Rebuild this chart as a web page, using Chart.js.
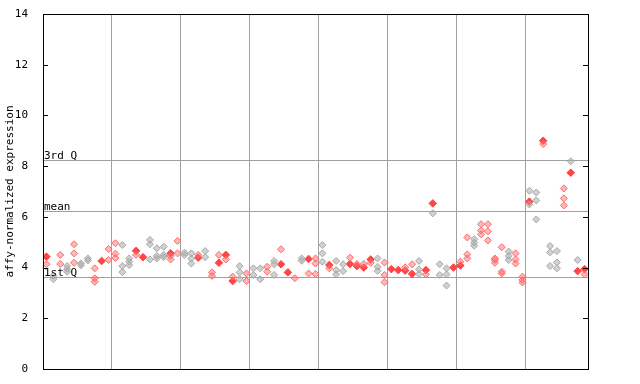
<!DOCTYPE html>
<html>
<head>
<meta charset="utf-8">
<script src="https://cdn.jsdelivr.net/npm/chart.js@4"></script>
<style>
  html, body { margin: 0; padding: 0; background: #fff; }
  canvas { display: block; }
</style>
</head>
<body>
<canvas id="chart" width="640" height="384"></canvas>
<script>
// samples per position (light markers), one inner array per position
const sampleValues = [
  [4.13], [3.68, 3.54], [4.5, 4.14], [4.06, 3.94, 3.84], [4.92, 4.56, 4.19],
  [4.16, 4.09], [4.36, 4.28], [3.97, 3.58, 3.44], [], [4.73, 4.3],
  [4.96, 4.55, 4.38], [4.89, 4.06, 3.82], [4.36, 4.23, 4.1], [4.5], [],
  [5.09, 4.92, 4.32], [4.76, 4.46, 4.36], [4.82, 4.5, 4.41], [4.46, 4.32], [5.05, 4.56],
  [4.59, 4.5], [4.56, 4.36, 4.16], [4.5], [4.65, 4.41], [3.81, 3.67],
  [4.5], [4.32], [3.64], [4.06, 3.81, 3.54], [3.77, 3.47],
  [3.97, 3.71], [3.97, 3.54], [4.03, 3.84], [4.26, 4.13, 3.71], [4.72],
  [], [3.58], [4.36, 4.27], [3.77], [4.36, 4.16, 3.75],
  [4.89, 4.56, 4.23], [3.97], [4.26, 3.9, 3.73], [4.13, 3.86], [4.39],
  [4.14], [4.14], [4.19], [4.36, 4.03, 3.87], [4.2, 3.71, 3.42],
  [], [], [4.01], [4.13], [4.26, 3.93, 3.75],
  [3.73], [6.14], [4.13, 3.71], [3.97, 3.73, 3.29], [],
  [4.23], [5.19, 4.52, 4.36], [5.12, 4.98, 4.86], [5.71, 5.46, 5.31], [5.71, 5.43, 5.07],
  [4.36, 4.3, 4.19], [4.8, 3.84, 3.77], [4.63, 4.46, 4.3], [4.56, 4.32, 4.16], [3.64, 3.51, 3.41],
  [7.03, 6.49], [6.96, 6.65, 5.9], [8.87], [4.85, 4.6, 4.06], [4.65, 4.2, 3.97],
  [7.12, 6.73, 6.45], [8.19], [4.3], [3.73]
];
// highlighted value per position (solid red marker), null where none
const highlightValues = [
  4.43, null, null, null, null, null, null, null, 4.26, null,
  null, null, null, 4.66, 4.41, null, null, null, 4.56, null,
  null, null, 4.39, null, null, 4.19, 4.5, 3.47, null, null,
  null, null, null, null, 4.13, 3.81, null, null, 4.34, null,
  null, 4.1, null, null, 4.14, 4.06, 4.0, 4.32, null, null,
  3.94, 3.9, 3.88, 3.75, null, 3.9, 6.53, null, null, 4.0,
  4.08, null, null, null, null, null, null, null, null, null,
  6.6, null, 9.0, null, null, null, 7.74, 3.86, 3.94
];
// positions whose light markers are grey instead of red
const grayPositions = [1, 3, 5, 6, 11, 12, 15, 16, 17, 20, 21, 23, 28, 30, 31, 33, 37, 40, 42, 43,
  48, 54, 56, 57, 58, 62, 67, 70, 71, 73, 74, 76, 77];
const groupSize = 10;
const yTicks = [0, 2, 4, 6, 8, 10, 12, 14];
const quartileValues = [3.63, 6.23, 8.24];
const quartileLabels = ['1st Q', 'mean', '3rd Q'];

const MONO = '"DejaVu Sans Mono", "Liberation Mono", monospace';

const redPts = [], grayPts = [], solidPts = [];
sampleValues.forEach((vals, i) => {
    const target = grayPositions.includes(i) ? grayPts : redPts;
    vals.forEach(v => target.push({ x: i + 0.5, y: v }));
    if (highlightValues[i] !== null) solidPts.push({ x: i + 0.5, y: highlightValues[i] });
});

const framePlugin = {
    id: 'frame',
    beforeDatasetsDraw(chart) {
        const { ctx, chartArea: a, scales: { y } } = chart;
        ctx.save();
        ctx.strokeStyle = '#a0a0a0';
        ctx.lineWidth = 1;
        quartileValues.forEach(v => {
            const py = Math.round(y.getPixelForValue(v)) + 0.5;
            ctx.beginPath();
            ctx.moveTo(a.left, py);
            ctx.lineTo(a.right, py);
            ctx.stroke();
        });
        ctx.restore();
    },
    afterDraw(chart) {
        const { ctx, chartArea: a, scales: { y } } = chart;
        ctx.save();
        ctx.fillStyle = '#000';
        ctx.font = '11px ' + MONO;
        ctx.textAlign = 'left';
        ctx.textBaseline = 'alphabetic';
        quartileValues.forEach((v, i) => {
            ctx.fillText(quartileLabels[i], a.left + 1, Math.round(y.getPixelForValue(v)) - 1);
        });
        ctx.strokeStyle = '#000';
        ctx.lineWidth = 1;
        ctx.strokeRect(Math.round(a.left) + 0.5, Math.round(a.top) + 0.5,
            Math.round(a.right - a.left), Math.round(a.bottom - a.top));
        yTicks.forEach(v => {
            const py = Math.round(y.getPixelForValue(v)) + 0.5;
            ctx.beginPath();
            ctx.moveTo(a.left, py);
            ctx.lineTo(a.left + 5, py);
            ctx.moveTo(a.right - 5, py);
            ctx.lineTo(a.right, py);
            ctx.stroke();
        });
        ctx.restore();
    }
};

new Chart(document.getElementById('chart'), {
    type: 'scatter',
    data: {
        datasets: [
            {
                data: grayPts,
                pointStyle: 'rectRot',
                pointRadius: 3.5,
                pointBackgroundColor: 'rgba(170,170,170,0.55)',
                pointBorderColor: '#a8a8a8',
                pointBorderWidth: 1
            },
            {
                data: redPts,
                pointStyle: 'rectRot',
                pointRadius: 3.5,
                pointBackgroundColor: 'rgba(255,110,110,0.5)',
                pointBorderColor: '#ff6a6a',
                pointBorderWidth: 1
            },
            {
                data: solidPts,
                pointStyle: 'rectRot',
                pointRadius: 3.8,
                pointBackgroundColor: '#ff4545',
                pointBorderColor: '#ff4545',
                pointBorderWidth: 1
            }
        ]
    },
    options: {
        responsive: false,
        animation: false,
        events: [],
        layout: { padding: { top: 14, left: 0, right: 0, bottom: 0 } },
        plugins: { legend: { display: false }, tooltip: { enabled: false } },
        scales: {
            x: {
                type: 'linear',
                min: 0,
                max: sampleValues.length,
                ticks: { display: false, stepSize: groupSize },
                grid: { color: '#a0a0a0', drawTicks: false, tickLength: 0 },
                border: { color: '#000' },
                afterFit: s => { s.height = 15; }
            },
            y: {
                min: 0,
                max: 14,
                position: 'left',
                afterBuildTicks: s => { s.ticks = yTicks.map(v => ({ value: v })); },
                ticks: { color: '#000', font: { family: MONO, size: 11 }, padding: 7 },
                grid: { display: false },
                border: { color: '#000' },
                title: {
                    display: true,
                    text: 'affy-normalized expression',
                    color: '#000',
                    font: { family: MONO, size: 11 },
                    padding: { top: 4, bottom: 0 }
                },
                afterFit: s => { s.width = 43; }
            },
            y2: {
                min: 0,
                max: 14,
                position: 'right',
                ticks: { display: false },
                grid: { display: false },
                border: { color: '#000' },
                afterFit: s => { s.width = 52; }
            }
        }
    },
    plugins: [framePlugin]
});
</script>
</body>
</html>
